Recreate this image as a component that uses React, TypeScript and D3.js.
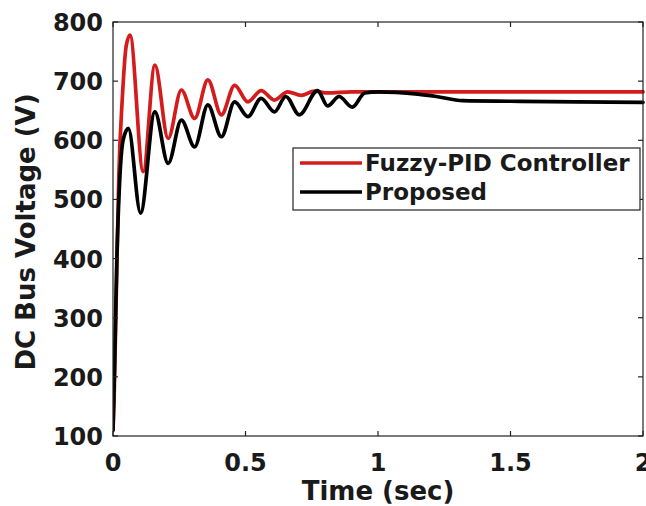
import React from "react";
import * as d3 from "d3";

const xTicks = [0, 0.5, 1, 1.5, 2];
const yTicks = [100, 200, 300, 400, 500, 600, 700, 800];

const fuzzyT = [0, 0.004, 0.012, 0.022, 0.035, 0.05, 0.064, 0.114, 0.158, 0.208, 0.258, 0.308, 0.358, 0.409, 0.459, 0.509, 0.559, 0.609, 0.659, 0.71, 0.76, 0.81, 0.9, 1.0, 1.5, 2.0];
const fuzzyV = [110, 160, 330, 540, 670, 760, 778, 547, 727, 603, 685, 637, 702, 643, 693, 665, 684, 668, 682, 676, 683, 680, 682, 682, 682, 682];

const propT = [0, 0.006, 0.014, 0.024, 0.038, 0.058, 0.104, 0.158, 0.208, 0.258, 0.308, 0.358, 0.409, 0.459, 0.509, 0.559, 0.609, 0.652, 0.703, 0.772, 0.81, 0.853, 0.903, 0.95, 1.0, 1.07, 1.15, 1.22, 1.32, 1.5, 1.75, 2.0];
const propV = [110, 220, 390, 520, 600, 620, 477, 648, 561, 634, 589, 660, 606, 665, 640, 671, 648, 674, 643, 684, 658, 674, 656, 680, 682, 681, 678, 674, 667, 666, 665, 664];

const seriesNames = ["Fuzzy-PID Controller", "Proposed"];
const seriesColors = ["#d41c1c", "#000000"];

const W = 646;
const H = 506;
const left = 113;
const right = 643;
const top = 22;
const bottom = 436;
const font = "'DejaVu Sans', sans-serif";

export default function App() {
  const x = d3.scaleLinear().domain([0, 2]).range([left, right]);
  const y = d3.scaleLinear().domain([100, 800]).range([bottom, top]);
  const line = d3
    .line<[number, number]>()
    .x((d) => x(d[0]))
    .y((d) => y(d[1]))
    .curve(d3.curveMonotoneX);
  const fuzzy: [number, number][] = fuzzyT.map((t, i) => [t, fuzzyV[i]]);
  const prop: [number, number][] = propT.map((t, i) => [t, propV[i]]);
  const fmt = (v: number) => String(v);

  return (
    <svg
      width={W}
      height={H}
      style={{ position: "absolute", left: 0, top: 0, background: "#fff" }}
      fontFamily={font}
    >
      <defs>
        <clipPath id="plot">
          <rect x={left} y={top - 2} width={right - left + 2} height={bottom - top + 4} />
        </clipPath>
      </defs>
      <rect x={0} y={0} width={W} height={H} fill="#fff" />
      <g clipPath="url(#plot)" fill="none" strokeLinejoin="round" strokeLinecap="round">
        <path d={line(fuzzy) || ""} stroke={seriesColors[0]} strokeWidth={3.7} />
        <path d={line(prop) || ""} stroke={seriesColors[1]} strokeWidth={3.7} />
      </g>
      <rect x={left} y={top} width={right - left} height={bottom - top} fill="none" stroke="#222" strokeWidth={1.2} />
      {xTicks.map((t) => (
        <g key={"x" + t}>
          <line x1={x(t)} x2={x(t)} y1={bottom} y2={bottom - 5} stroke="#222" strokeWidth={1.2} />
          <line x1={x(t)} x2={x(t)} y1={top} y2={top + 5} stroke="#222" strokeWidth={1.2} />
          <text x={x(t)} y={471} textAnchor="middle" fontSize={24} fontWeight="bold" fill="#1a1a1a">
            {fmt(t)}
          </text>
        </g>
      ))}
      {yTicks.map((v) => (
        <g key={"y" + v}>
          <line x1={left} x2={left + 5} y1={y(v)} y2={y(v)} stroke="#222" strokeWidth={1.2} />
          <line x1={right} x2={right - 5} y1={y(v)} y2={y(v)} stroke="#222" strokeWidth={1.2} />
          <text x={103} y={y(v) + 9} textAnchor="end" fontSize={24} fontWeight="bold" fill="#1a1a1a">
            {fmt(v)}
          </text>
        </g>
      ))}
      <text x={(left + right) / 2} y={500} textAnchor="middle" fontSize={26} fontWeight="bold" fill="#1a1a1a">
        Time (sec)
      </text>
      <text
        transform={`translate(35, ${(top + bottom) / 2 + 3}) rotate(-90)`}
        textAnchor="middle"
        fontSize={26}
        fontWeight="bold"
        fill="#1a1a1a"
      >
        DC Bus Voltage (V)
      </text>
      <g>
        <rect x={293} y={148} width={347} height={62} fill="#fff" stroke="#222" strokeWidth={1.2} />
        {seriesNames.map((n, i) => (
          <g key={n}>
            <line x1={300} x2={362} y1={163 + i * 29} y2={163 + i * 29} stroke={seriesColors[i]} strokeWidth={3.7} />
            <text x={365} y={171 + i * 29} fontSize={23} fontWeight="bold" fill="#1a1a1a">
              {n}
            </text>
          </g>
        ))}
      </g>
    </svg>
  );
}
